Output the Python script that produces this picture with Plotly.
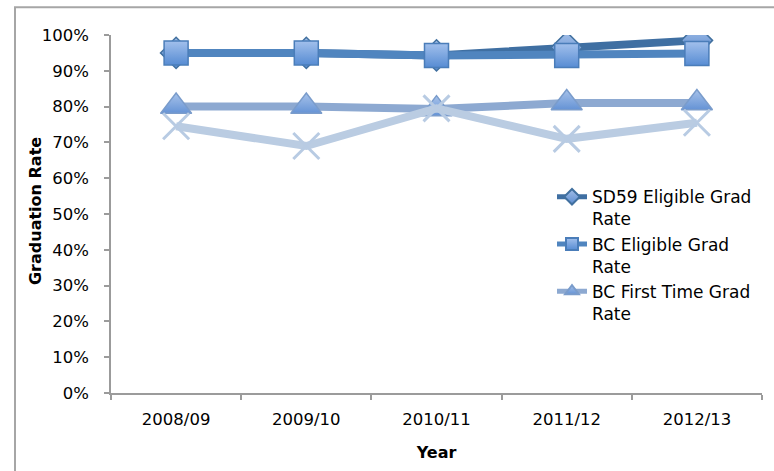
import plotly.graph_objects as go

# School years on the category axis
years = ["2008/09", "2009/10", "2010/11", "2011/12", "2012/13"]

# Graduation rates in percent
sd59_eligible = [95.0, 95.0, 94.3, 96.5, 98.5]
bc_eligible = [95.0, 95.0, 94.3, 94.3, 94.8]
bc_first_time = [80.0, 80.0, 79.3, 81.0, 81.0]
sd59_first_time = [74.5, 69.0, 79.5, 71.0, 75.5]

y_ticks = list(range(0, 101, 10))

FONT = "DejaVu Sans"

fig = go.Figure()

fig.add_trace(go.Scatter(
    x=years, y=sd59_eligible, name="SD59 Eligible Grad<br>Rate",
    mode="lines+markers",
    line=dict(color="#3F6FA2", width=8),
    marker=dict(symbol="diamond", size=24, color="#A3BFE8",
                gradient=dict(type="vertical", color="#5B8BCF"),
                line=dict(color="#41709F", width=1.5)),
))
fig.add_trace(go.Scatter(
    x=years, y=bc_eligible, name="BC Eligible Grad<br>Rate",
    mode="lines+markers",
    line=dict(color="#5085BF", width=8),
    marker=dict(symbol="square", size=24, color="#A2C0EC",
                gradient=dict(type="vertical", color="#578CD3"),
                line=dict(color="#4A7DB9", width=1.5)),
))
fig.add_trace(go.Scatter(
    x=years, y=bc_first_time, name="BC First Time Grad<br>Rate",
    mode="lines+markers",
    line=dict(color="#8DA9D1", width=8),
    marker=dict(symbol="triangle-up", size=27, color="#A7C2EA",
                gradient=dict(type="vertical", color="#6593D5"),
                line=dict(color="#7A9CCB", width=1.5)),
))
fig.add_trace(go.Scatter(
    x=years, y=sd59_first_time, name="SD59 First Time Grad Rate",
    mode="lines+markers", showlegend=False,
    line=dict(color="#BACCE2", width=8),
    marker=dict(symbol="x-thin", size=26, color="#B8CBE3",
                line=dict(color="#B8CBE3", width=3)),
))

axis_color = "#9B9B9B"

fig.update_layout(
    width=774, height=471,
    margin=dict(l=111, r=12, t=35, b=76),
    paper_bgcolor="white", plot_bgcolor="white",
    font=dict(family=FONT, size=16, color="#000000"),
    showlegend=True,
    legend=dict(
        x=(552 - 111) / 651, y=(395 - 180) / 360,
        xanchor="left", yanchor="top",
        bgcolor="rgba(0,0,0,0)",
        font=dict(family=FONT, size=17, color="#000000"),
        valign="top", itemsizing="constant", tracegroupgap=0,
    ),
    xaxis=dict(
        type="category", range=[-0.5, 4.5],
        tickson="boundaries", ticks="outside", ticklen=5,
        tickcolor=axis_color, tickwidth=1.5,
        showline=True, linecolor=axis_color, linewidth=1.5,
        showgrid=False, zeroline=False,
        tickfont=dict(family=FONT, size=16.5),
        ticklabelstandoff=10,
        title=dict(text="<b>Year</b>", font=dict(family=FONT, size=16),
                   standoff=19),
    ),
    yaxis=dict(
        range=[0, 100], tickvals=y_ticks,
        ticktext=[f"{v}%" for v in y_ticks],
        ticks="outside", ticklen=5, tickcolor=axis_color, tickwidth=1.5,
        showline=True, linecolor=axis_color, linewidth=1.5,
        showgrid=False, zeroline=False,
        tickfont=dict(family=FONT, size=16.5),
        ticklabelstandoff=12,
    ),
    # Vertical axis title, set just inside the chart border
    annotations=[dict(
        text="<b>Graduation Rate</b>", textangle=-90,
        xref="paper", yref="paper",
        x=(35 - 111) / 651, y=(395 - 212) / 360,
        xanchor="center", yanchor="middle", showarrow=False,
        font=dict(family=FONT, size=16, color="#000000"),
    )],
    shapes=[dict(
        type="rect", xref="paper", yref="paper",
        x0=(15 - 111) / 651, x1=1.1, y0=-0.4, y1=(395 - 7) / 360,
        line=dict(color="#A6A6A6", width=2), fillcolor="rgba(0,0,0,0)",
        layer="below",
    )],
)

fig.write_html("out.html")
